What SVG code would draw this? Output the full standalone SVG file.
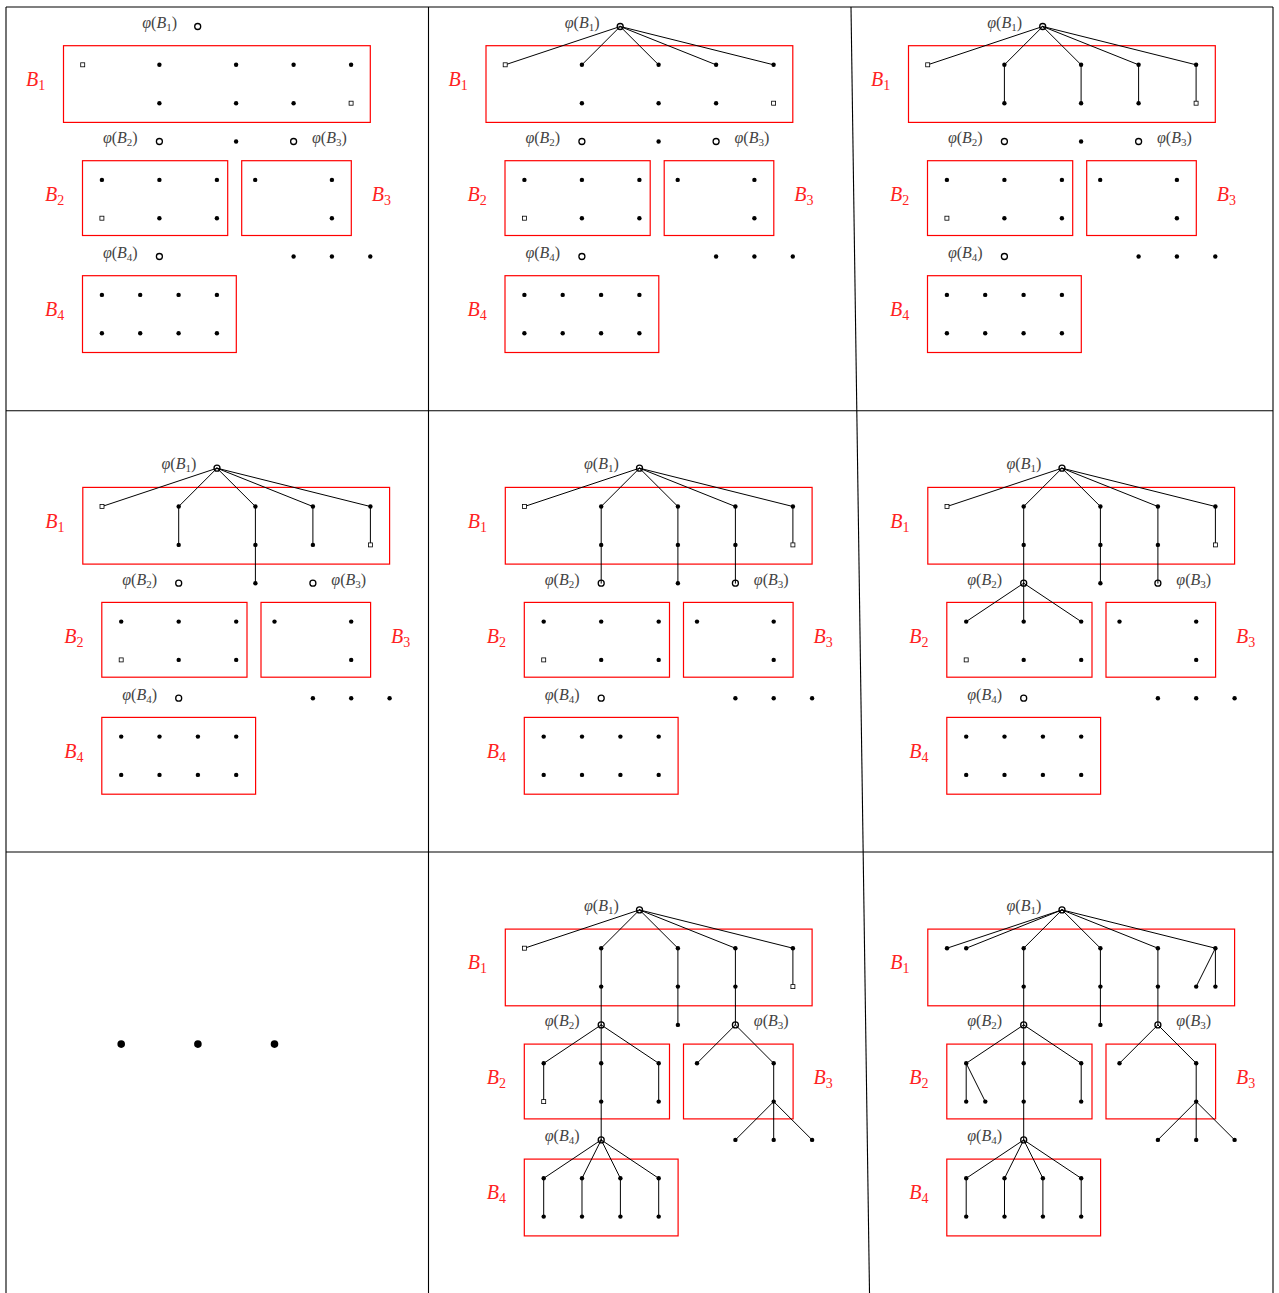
<svg xmlns="http://www.w3.org/2000/svg" xmlns:xlink="http://www.w3.org/1999/xlink" width="1279" height="1293" viewBox="0 0 1279 1293">
<style>
.frame{stroke:#000;stroke-width:1.1;fill:none}
.blk{fill:none;stroke:#f00;stroke-width:1.2}
.bl{font-family:"Liberation Serif",serif;font-style:italic;font-size:20px;fill:#f22}
.pl{font-family:"Liberation Serif",serif;font-size:16px;fill:#444}
.e{stroke:#000;stroke-width:1;fill:none;stroke-linecap:round}
.d{fill:#000}
.sq{fill:#fff;stroke:#000;stroke-width:0.8}
.phi{fill:none;stroke:#000;stroke-width:1.3}
.big{fill:#000}
</style>
<defs>
  <g id="blocks">
    <g id="blockB1"><rect class="blk" x="63.5" y="45.7" width="306.8" height="76.7"/><text class="bl" x="26" y="86">B<tspan font-size="14" dy="4" font-style="normal">1</tspan></text></g>
    <g id="blockB2"><rect class="blk" x="82.5" y="160.7" width="145.2" height="74.8"/><text class="bl" x="45" y="201">B<tspan font-size="14" dy="4" font-style="normal">2</tspan></text></g>
    <g id="blockB3"><rect class="blk" x="241.7" y="160.7" width="109.6" height="74.8"/><text class="bl" x="371.7" y="201">B<tspan font-size="14" dy="4" font-style="normal">3</tspan></text></g>
    <g id="blockB4"><rect class="blk" x="82.5" y="275.7" width="153.8" height="76.8"/><text class="bl" x="45" y="316">B<tspan font-size="14" dy="4" font-style="normal">4</tspan></text></g>
  </g>
  <g id="phiLabels">
    <text class="pl" x="177" y="27.5" text-anchor="end"><tspan font-style="italic">φ</tspan>(<tspan font-style="italic">B</tspan><tspan font-size="11" dy="3">1</tspan><tspan dy="-3">)</tspan></text>
    <text class="pl" x="137.7" y="143" text-anchor="end"><tspan font-style="italic">φ</tspan>(<tspan font-style="italic">B</tspan><tspan font-size="11" dy="3">2</tspan><tspan dy="-3">)</tspan></text>
    <text class="pl" x="312" y="143"><tspan font-style="italic">φ</tspan>(<tspan font-style="italic">B</tspan><tspan font-size="11" dy="3">3</tspan><tspan dy="-3">)</tspan></text>
    <text class="pl" x="137.7" y="258" text-anchor="end"><tspan font-style="italic">φ</tspan>(<tspan font-style="italic">B</tspan><tspan font-size="11" dy="3">4</tspan><tspan dy="-3">)</tspan></text>
  </g>
  <g id="phis">
    <circle class="phi" cx="197.7" cy="26.5" r="3"/>
    <circle class="phi" cx="159.4" cy="141.5" r="3"/>
    <circle class="phi" cx="293.6" cy="141.5" r="3"/>
    <circle class="phi" cx="159.4" cy="256.5" r="3"/>
  </g>
  <g id="commonDots">
    <circle class="d" cx="159.4" cy="64.8" r="2.2"/><circle class="d" cx="236.1" cy="64.8" r="2.2"/><circle class="d" cx="293.6" cy="64.8" r="2.2"/><circle class="d" cx="351.1" cy="64.8" r="2.2"/>
    <circle class="d" cx="159.4" cy="103.2" r="2.2"/><circle class="d" cx="236.1" cy="103.2" r="2.2"/><circle class="d" cx="293.6" cy="103.2" r="2.2"/>
    <circle class="d" cx="236.1" cy="141.5" r="2.2"/>
    <circle class="d" cx="101.9" cy="179.9" r="2.2"/><circle class="d" cx="159.4" cy="179.9" r="2.2"/><circle class="d" cx="216.9" cy="179.9" r="2.2"/><circle class="d" cx="255.2" cy="179.9" r="2.2"/><circle class="d" cx="331.9" cy="179.9" r="2.2"/>
    <circle class="d" cx="159.4" cy="218.2" r="2.2"/><circle class="d" cx="216.9" cy="218.2" r="2.2"/><circle class="d" cx="331.9" cy="218.2" r="2.2"/>
    <circle class="d" cx="293.6" cy="256.5" r="2.2"/><circle class="d" cx="331.9" cy="256.5" r="2.2"/><circle class="d" cx="370.3" cy="256.5" r="2.2"/>
    <circle class="d" cx="101.9" cy="294.9" r="2.2"/><circle class="d" cx="140.2" cy="294.9" r="2.2"/><circle class="d" cx="178.6" cy="294.9" r="2.2"/><circle class="d" cx="216.9" cy="294.9" r="2.2"/>
    <circle class="d" cx="101.9" cy="333.2" r="2.2"/><circle class="d" cx="140.2" cy="333.2" r="2.2"/><circle class="d" cx="178.6" cy="333.2" r="2.2"/><circle class="d" cx="216.9" cy="333.2" r="2.2"/>
  </g>
  <g id="squares">
    <rect class="sq" x="80.7" y="62.8" width="4" height="4"/>
    <rect class="sq" x="349.1" y="101.2" width="4" height="4"/>
    <rect class="sq" x="99.9" y="216.2" width="4" height="4"/>
  </g>
  <g id="extraDots9">
    <circle class="d" cx="82.7" cy="64.8" r="2.2"/><circle class="d" cx="101.9" cy="64.8" r="2.2"/>
    <circle class="d" cx="331.9" cy="103.2" r="2.2"/><circle class="d" cx="351.1" cy="103.2" r="2.2"/>
    <circle class="d" cx="101.9" cy="218.2" r="2.2"/><circle class="d" cx="121.0" cy="218.2" r="2.2"/>
  </g>
  <path id="eTop" class="e" d="M197.7 26.5L82.7 64.8M197.7 26.5L159.4 64.8M197.7 26.5L236.1 64.8M197.7 26.5L293.6 64.8M197.7 26.5L351.1 64.8"/>
  <path id="eVert" class="e" d="M159.4 64.8V103.2M236.1 64.8V103.2M293.6 64.8V103.2M351.1 64.8V103.2"/>
  <path id="eC8" class="e" d="M236.1 103.2V141.5"/>
  <path id="eMid" class="e" d="M159.4 103.2V141.5M293.6 103.2V141.5"/>
  <path id="eB2" class="e" d="M159.4 141.5L101.9 179.9M159.4 141.5L159.4 179.9M159.4 141.5L216.9 179.9"/>
  <path id="eRest" class="e" d="M101.9 179.9V218.2M159.4 179.9V256.5M216.9 179.9V218.2M293.6 141.5L255.2 179.9M293.6 141.5L331.9 179.9M331.9 179.9V218.2L293.6 256.5M331.9 218.2V256.5M331.9 218.2L370.3 256.5M159.4 256.5L101.9 294.9M159.4 256.5L140.2 294.9M159.4 256.5L178.6 294.9M159.4 256.5L216.9 294.9M101.9 294.9V333.2M140.2 294.9V333.2M178.6 294.9V333.2M216.9 294.9V333.2"/>
  <path id="eExtra9" class="e" d="M197.7 26.5L101.9 64.8M351.1 64.8L331.9 103.2M101.9 179.9L121.0 218.2"/>
</defs>

<g id="grid">
  <line class="frame" x1="6" y1="7" x2="1273" y2="7"/>
  <line class="frame" x1="6" y1="410.7" x2="1273" y2="410.7"/>
  <line class="frame" x1="6" y1="852" x2="1273" y2="852"/>
  <line class="frame" x1="6" y1="7" x2="6" y2="1293"/>
  <line class="frame" x1="428.5" y1="7" x2="428.5" y2="1293"/>
  <line class="frame" x1="851" y1="7" x2="869.5" y2="1293"/>
  <line class="frame" x1="1273" y1="7" x2="1273" y2="1293"/>
</g>

<g id="panel1">
  <use href="#blocks"/><use href="#phiLabels"/>
  <g id="p1-connectors"></g>
  <g id="p1-nodes"><use href="#phis"/><use href="#commonDots"/><use href="#squares"/></g>
</g>

<g id="panel2" transform="translate(422.5,0)">
  <use href="#blocks"/><use href="#phiLabels"/>
  <g id="p2-connectors"><use href="#eTop"/></g>
  <g id="p2-nodes"><use href="#phis"/><use href="#commonDots"/><use href="#squares"/></g>
</g>

<g id="panel3" transform="translate(845,0)">
  <use href="#blocks"/><use href="#phiLabels"/>
  <g id="p3-connectors"><use href="#eTop"/><use href="#eVert"/></g>
  <g id="p3-nodes"><use href="#phis"/><use href="#commonDots"/><use href="#squares"/></g>
</g>

<g id="panel4" transform="translate(19.3,441.7)">
  <use href="#blocks"/><use href="#phiLabels"/>
  <g id="p4-connectors"><use href="#eTop"/><use href="#eVert"/><use href="#eC8"/></g>
  <g id="p4-nodes"><use href="#phis"/><use href="#commonDots"/><use href="#squares"/></g>
</g>

<g id="panel5" transform="translate(441.8,441.7)">
  <use href="#blocks"/><use href="#phiLabels"/>
  <g id="p5-connectors"><use href="#eTop"/><use href="#eVert"/><use href="#eC8"/><use href="#eMid"/></g>
  <g id="p5-nodes"><use href="#phis"/><use href="#commonDots"/><use href="#squares"/></g>
</g>

<g id="panel6" transform="translate(864.3,441.7)">
  <use href="#blocks"/><use href="#phiLabels"/>
  <g id="p6-connectors"><use href="#eTop"/><use href="#eVert"/><use href="#eC8"/><use href="#eMid"/><use href="#eB2"/></g>
  <g id="p6-nodes"><use href="#phis"/><use href="#commonDots"/><use href="#squares"/></g>
</g>

<g id="panel7" transform="translate(19.3,883.4)">
  <circle class="big" cx="101.9" cy="160.7" r="3.8"/>
  <circle class="big" cx="178.6" cy="160.7" r="3.8"/>
  <circle class="big" cx="255.2" cy="160.7" r="3.8"/>
</g>

<g id="panel8" transform="translate(441.8,883.4)">
  <use href="#blocks"/><use href="#phiLabels"/>
  <g id="p8-connectors"><use href="#eTop"/><use href="#eVert"/><use href="#eC8"/><use href="#eMid"/><use href="#eB2"/><use href="#eRest"/></g>
  <g id="p8-nodes"><use href="#phis"/><use href="#commonDots"/><use href="#squares"/></g>
</g>

<g id="panel9" transform="translate(864.3,883.4)">
  <use href="#blocks"/><use href="#phiLabels"/>
  <g id="p9-connectors"><use href="#eTop"/><use href="#eVert"/><use href="#eC8"/><use href="#eMid"/><use href="#eB2"/><use href="#eRest"/><use href="#eExtra9"/></g>
  <g id="p9-nodes"><use href="#phis"/><use href="#commonDots"/><use href="#extraDots9"/></g>
</g>
</svg>
